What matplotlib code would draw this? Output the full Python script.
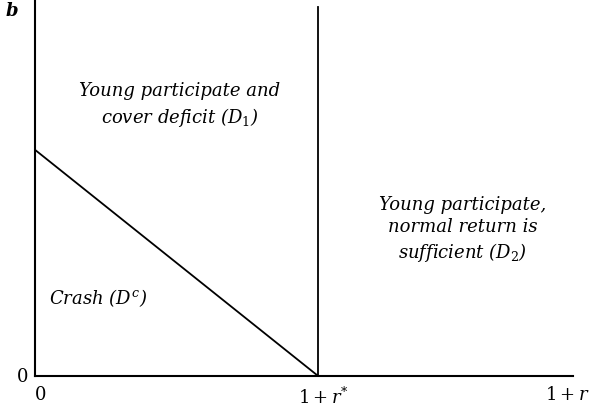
import matplotlib
matplotlib.use("Agg")
import matplotlib.pyplot as plt

# data
x_max = 1.9
r_star = 1.0           # position of 1 + r*
b_intercept = 0.6      # where the crash boundary meets the b axis
vline_top = 0.98

x_ticks = [0.02, r_star + 0.02, 1.88]
x_tick_labels = ["0", r"$1 + r^{*}$", r"$1 + r$"]

plt.rcParams["font.family"] = "DejaVu Serif"
plt.rcParams["mathtext.fontset"] = "dejavuserif"
plt.rcParams["mathtext.default"] = "it"

fig = plt.figure(figsize=(5.93, 4.14), dpi=100)
ax = fig.add_axes([35 / 593, 37 / 414, 538 / 593, 377 / 414])
ax.set_xlim(0, x_max)
ax.set_ylim(0, 1)

for s in ["top", "right"]:
    ax.spines[s].set_visible(False)
for s in ["left", "bottom"]:
    ax.spines[s].set_linewidth(1.5)
ax.set_xticks([])
ax.set_yticks([])

ax.plot([0, r_star], [b_intercept, 0], color="black", lw=1.3)
ax.plot([r_star, r_star], [0, vline_top], color="black", lw=1.3)

fs = 13
for x, lab in zip(x_ticks, x_tick_labels):
    ax.text(x, -0.025, lab, ha="center", va="top", fontsize=fs)
ax.text(-0.025, 0.0, "0", ha="right", va="center", fontsize=fs)
ax.text(-0.06, 0.97, "b", ha="right", va="center", fontsize=fs, style="italic",
        fontweight="bold")

ax.text(0.51, 0.72, "Young participate and\ncover deficit ($D_1$)", ha="center", va="center",
        fontsize=fs, style="italic", linespacing=1.35)
ax.text(1.511, 0.39, "Young participate,\nnormal return is\nsufficient ($D_2$)", ha="center", va="center",
        fontsize=fs, style="italic", linespacing=1.3)
ax.text(0.05, 0.21, "Crash ($D^c$)", ha="left", va="center", fontsize=fs, style="italic")

fig.savefig("out.png", dpi=100)
